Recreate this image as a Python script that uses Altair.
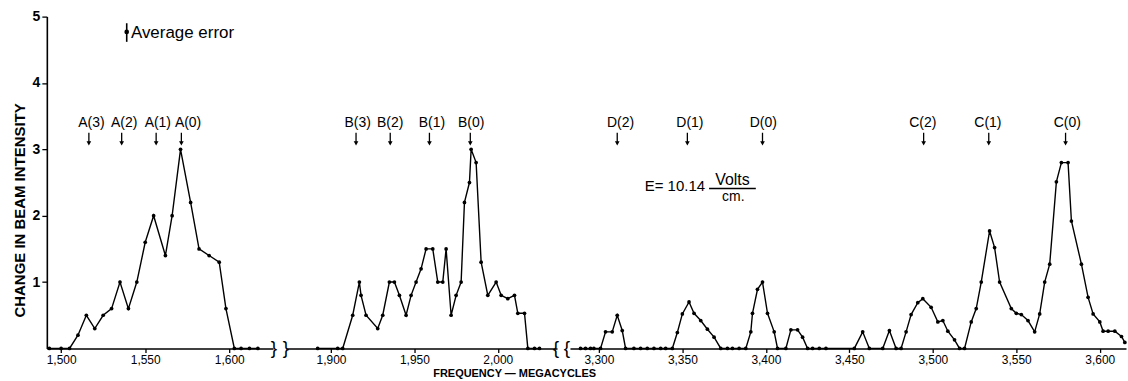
import altair as alt
import pandas as pd

# ---- data ----
a_freq = [1493, 1500, 1505, 1510, 1515, 1520, 1525, 1530, 1535, 1540, 1545, 1550, 1555,
          1562, 1566, 1571, 1577, 1582, 1588, 1594, 1598, 1603, 1607, 1612, 1617]
a_val = [0, 0, 0, 0.2, 0.5, 0.3, 0.5, 0.6, 1.0, 0.6, 1.0, 1.6, 2.0,
         1.4, 2.0, 3.0, 2.2, 1.5, 1.4, 1.3, 0.6, 0, 0, 0, 0]

b_freq = [1892, 1904, 1907, 1913, 1917, 1918, 1921, 1928, 1931, 1935,
          1938, 1941, 1945, 1948, 1951, 1954, 1957, 1961, 1964, 1967,
          1969, 1972, 1975, 1978, 1980, 1983, 1984, 1987, 1990, 1994,
          1999, 2002, 2006, 2010, 2012, 2016, 2018, 2022, 2025]
b_val = [0, 0, 0, 0.5, 1.0, 0.8, 0.5, 0.3, 0.5, 1.0,
         1.0, 0.8, 0.5, 0.8, 1.0, 1.2, 1.5, 1.5, 1.0, 1.0,
         1.5, 0.5, 0.8, 1.0, 2.2, 2.5, 3.0, 2.8, 1.3, 0.8,
         1.0, 0.8, 0.75, 0.8, 0.53, 0.53, 0, 0, 0]

cd_freq = [3289, 3292, 3295, 3297, 3301, 3304, 3308, 3311, 3314, 3316,
           3321, 3325, 3329, 3333, 3337, 3340, 3344, 3347, 3350, 3354,
           3357, 3361, 3365, 3369, 3373, 3377, 3380, 3384, 3388, 3391,
           3392, 3395, 3398, 3401, 3405, 3407, 3412, 3415, 3419, 3422,
           3425, 3428, 3432, 3436, 3453, 3458, 3462, 3470, 3474, 3478,
           3481, 3484, 3487, 3491, 3494, 3499, 3503, 3506, 3509, 3513,
           3516, 3519, 3523, 3526, 3529, 3534, 3537, 3540, 3547, 3550,
           3553, 3557, 3561, 3564, 3567, 3570, 3574, 3577, 3581, 3583,
           3589, 3593, 3596, 3600, 3602, 3605, 3609, 3613, 3615]
cd_val = [0, 0, 0, 0, 0, 0.25, 0.25, 0.5, 0.27, 0,
          0, 0, 0, 0, 0, 0, 0, 0.24, 0.52, 0.7,
          0.53, 0.42, 0.29, 0.17, 0, 0, 0, 0, 0, 0.25,
          0.53, 0.89, 1.0, 0.53, 0.25, 0, 0, 0.28, 0.28, 0.17,
          0, 0, 0, 0, 0, 0.25, 0, 0, 0.27, 0,
          0, 0.25, 0.51, 0.69, 0.75, 0.62, 0.4, 0.42, 0.26, 0.13,
          0, 0, 0.4, 0.6, 1.0, 1.77, 1.52, 1.0, 0.6, 0.53,
          0.51, 0.42, 0.25, 0.52, 1.0, 1.27, 2.51, 2.8, 2.8, 1.92,
          1.27, 0.77, 0.52, 0.4, 0.26, 0.26, 0.26, 0.18, 0.09]

# line labels: text, text centre, arrow position
a_labels = ["A(3)", "A(2)", "A(1)", "A(0)"]
a_label_pos = [1518, 1537.5, 1557.5, 1575.5]
a_marks = [1516.5, 1536, 1556.5, 1571.5]
b_labels = ["B(3)", "B(2)", "B(1)", "B(0)"]
b_label_pos = [1916, 1935.5, 1960.5, 1984]
b_marks = [1915, 1935.5, 1959, 1983.5]
cd_labels = ["D(2)", "D(1)", "D(0)", "C(2)", "C(1)", "C(0)"]
cd_label_pos = [3313, 3354.5, 3398.5, 3494, 3533, 3580.5]
cd_marks = [3311, 3353, 3398, 3494.5, 3533.5, 3579.5]

a_ticks = [1500, 1550, 1600]
b_ticks = [1900, 1950, 2000]
cd_ticks = [3300, 3350, 3400, 3450, 3500, 3550, 3600]

a_domain = [1491.5, 1626]
b_domain = [1873, 2035.5]
cd_domain = [3282.7, 3615.7]

y_ticks = [1, 2, 3, 4, 5]

FONT = "Liberation Sans"
H = 333


def make_x(domain, ticks, title_kwargs):
    return alt.X("f:Q", scale=alt.Scale(domain=domain, nice=False, zero=False),
                 axis=alt.Axis(values=ticks, format=",d", tickSize=4, labelPadding=2,
                               labelFontSize=12, labelFont=FONT, labelColor="black",
                               domainColor="black", domainWidth=1.6, tickColor="black",
                               tickWidth=1.3, grid=False, **title_kwargs))


def make_y(show):
    if show:
        ax = alt.Axis(values=y_ticks, format="d", tickSize=5, labelPadding=2, labelFontSize=14,
                      labelFontWeight="bold", labelFont=FONT, labelColor="black",
                      domainColor="black", domainWidth=1.6, tickColor="black", tickWidth=1.3,
                      grid=False, title="CHANGE IN BEAM INTENSITY", titleFont=FONT,
                      titleFontSize=15, titleFontWeight="bold", titleColor="black",
                      titleX=-27, titleY=194, titleAlign="center", titleBaseline="middle",
                      titleAngle=270)
    else:
        ax = None
    return alt.Y("v:Q", scale=alt.Scale(domain=[0, 5], nice=False, zero=True), axis=ax)


def panel(freq, val, labels, label_pos, marks, domain, ticks, width, show_y, title_kwargs,
          braces, extra=None):
    df = pd.DataFrame({"f": freq, "v": val})
    ann_t = pd.DataFrame({"f": label_pos, "label": labels})
    ann = pd.DataFrame({"f": marks})
    X = make_x(domain, ticks, title_kwargs)
    Y = make_y(show_y)
    line = alt.Chart(df).mark_line(
        color="black", strokeWidth=1.4,
        point=alt.OverlayMarkDef(filled=True, color="black", size=14)
    ).encode(x=X, y=Y)
    txt = alt.Chart(ann_t).mark_text(font=FONT, fontSize=14, color="black",
                                     baseline="middle").encode(
        x=alt.X("f:Q"), y=alt.datum(3.4), text="label:N")
    shaft = alt.Chart(ann).mark_rule(color="black", strokeWidth=1.3).encode(
        x=alt.X("f:Q"), y=alt.datum(3.25), y2=alt.datum(3.09))
    head = alt.Chart(ann).mark_point(shape="triangle-down", filled=True, color="black",
                                     size=22, opacity=1).encode(
        x=alt.X("f:Q"), y=alt.datum(3.09))
    layers = [line, txt, shaft, head]
    one = pd.DataFrame({"k": [0]})
    for bx, ch in braces:
        layers.append(alt.Chart(one).mark_text(text=ch, fontSize=19, font=FONT,
                                               color="black", baseline="middle",
                                               align="center").encode(
            x=alt.value(bx), y=alt.value(H)))
    if extra:
        layers.extend(extra)
    return alt.layer(*layers).properties(width=width, height=H)


# average error symbol (panel 1)
err_df = pd.DataFrame({"f": [1539], "lo": [4.62], "hi": [4.9], "mid": [4.77]})
err_rule = alt.Chart(err_df).mark_rule(color="black", strokeWidth=1.6).encode(
    x="f:Q", y="lo:Q", y2="hi:Q")
err_dot = alt.Chart(err_df).mark_point(filled=True, color="black", size=22, opacity=1).encode(
    x="f:Q", y="mid:Q")
err_txt = alt.Chart(pd.DataFrame({"f": [1541.5], "v": [4.75], "t": ["Average error"]})).mark_text(
    font=FONT, fontSize=17, align="left", baseline="middle", color="black").encode(
    x="f:Q", y="v:Q", text="t:N")

# E = 10.14 Volts/cm (panel 3)
e_txt = alt.Chart(pd.DataFrame({"f": [3327.5], "v": [2.45], "t": ["E= 10.14"]})).mark_text(
    font=FONT, fontSize=15, align="left", baseline="middle", color="black").encode(
    x="f:Q", y="v:Q", text="t:N")
volts = alt.Chart(pd.DataFrame({"f": [3380], "v": [2.54], "t": ["Volts"]})).mark_text(
    font=FONT, fontSize=16, align="center", baseline="middle", color="black").encode(
    x="f:Q", y="v:Q", text="t:N")
frac = alt.Chart(pd.DataFrame({"f": [3366], "f2": [3394], "v": [2.41]})).mark_rule(
    color="black", strokeWidth=1.5).encode(x="f:Q", x2="f2:Q", y="v:Q")
cm = alt.Chart(pd.DataFrame({"f": [3380.5], "v": [2.28], "t": ["cm."]})).mark_text(
    font=FONT, fontSize=14, align="center", baseline="middle", color="black").encode(
    x="f:Q", y="v:Q", text="t:N")

W1, W2, W3 = 227, 272, 558

p1 = panel(a_freq, a_val, a_labels, a_label_pos, a_marks, a_domain, a_ticks, W1, True,
           {"title": None}, [(W1 + 1, "}")], [err_rule, err_dot, err_txt])
p2 = panel(b_freq, b_val, b_labels, b_label_pos, b_marks, b_domain, b_ticks, W2, False,
           {"title": "FREQUENCY \u2014 MEGACYCLES", "titleX": 229, "titleY": 25,
            "titleAlign": "center", "titleBaseline": "middle", "titleFontSize": 11,
            "titleFontWeight": "bold", "titleFont": FONT, "titleColor": "black"},
           [(0, "}"), (W2 - 1, "{")])
p3 = panel(cd_freq, cd_val, cd_labels, cd_label_pos, cd_marks, cd_domain, cd_ticks, W3, False,
           {"title": None}, [(-3, "{")], [e_txt, volts, frac, cm])

chart = alt.hconcat(p1, p2, p3, spacing=13, bounds="flush").properties(
    padding={"left": 12, "top": 9, "right": 0, "bottom": 0},
    background="white"
).configure_view(stroke=None)

chart.save("out.html", embed_options={"renderer": "svg", "actions": False})
